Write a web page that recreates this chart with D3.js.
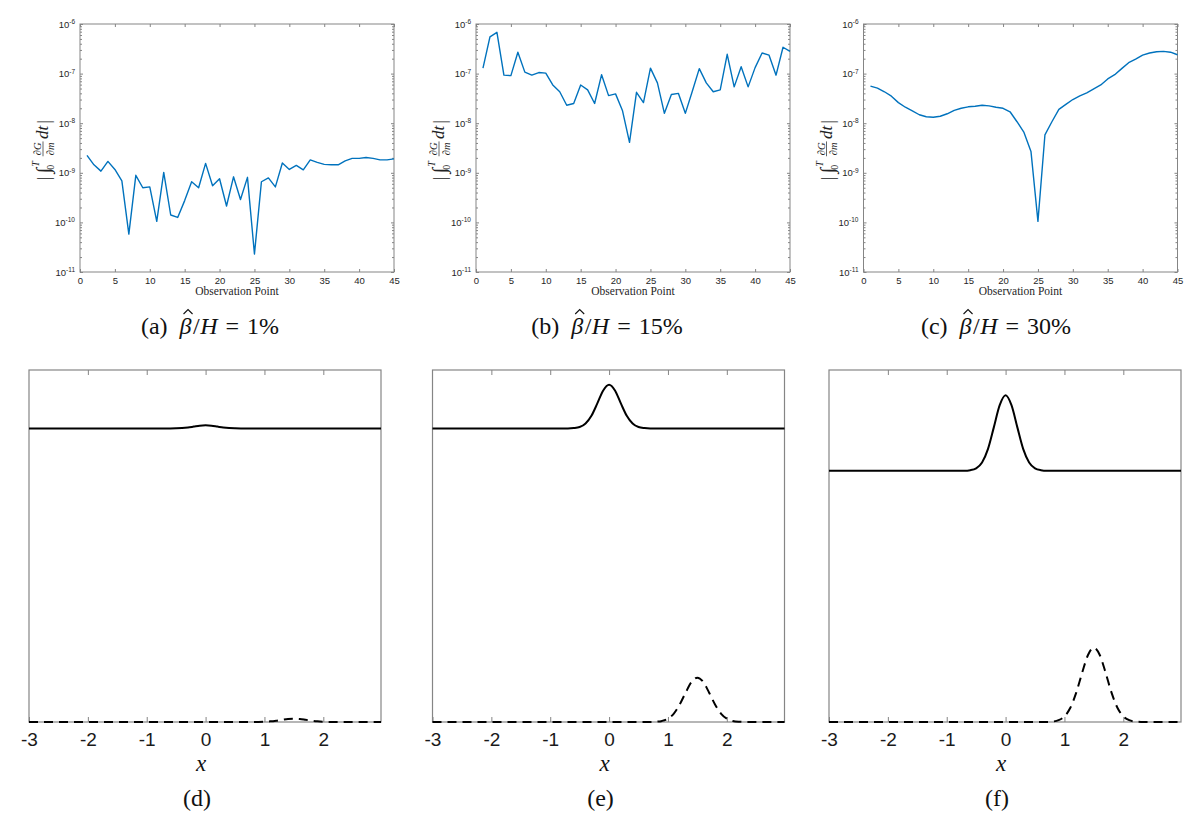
<!DOCTYPE html>
<html>
<head>
<meta charset="utf-8">
<script src="https://cdn.jsdelivr.net/npm/d3@7"></script>
<style>
  body { margin: 0; background: #fff; }
  svg { display: block; background: #fff; }
</style>
</head>
<body>
<svg id="fig" width="1200" height="830"></svg>
<script>
// ---- data ----
const obsPoints = [1, 2, 3, 4, 5, 6, 7, 8, 9, 10, 11, 12, 13, 14, 15, 16, 17, 18, 19, 20, 21, 22, 23,
  24, 25, 26, 27, 28, 29, 30, 31, 32, 33, 34, 35, 36, 37, 38, 39, 40, 41, 42, 43, 44, 45];

// (a) beta/H = 1%
const gradA = [2.25e-9, 1.45e-9, 1.08e-9, 1.7e-9, 1.17e-9, 6.9e-10, 5.8e-11, 8.9e-10, 5.0e-10, 5.2e-10,
  1.05e-10, 1.02e-9, 1.41e-10, 1.26e-10, 2.75e-10, 6.6e-10, 5.0e-10, 1.55e-9, 5.5e-10, 7.6e-10,
  2.14e-10, 8.3e-10, 2.9e-10, 8.1e-10, 2.3e-11, 6.6e-10, 7.9e-10, 5.2e-10, 1.58e-9, 1.17e-9,
  1.41e-9, 1.15e-9, 1.82e-9, 1.62e-9, 1.48e-9, 1.45e-9, 1.45e-9, 1.74e-9, 1.95e-9, 1.95e-9,
  2.04e-9, 1.95e-9, 1.82e-9, 1.82e-9, 1.91e-9];
// (b) beta/H = 15%
const gradB = [1.29e-7, 5.5e-7, 6.8e-7, 9.3e-8, 9.1e-8, 2.7e-7, 1.07e-7, 9.3e-8, 1.05e-7, 1.02e-7,
  5.9e-8, 4.3e-8, 2.3e-8, 2.5e-8, 5.9e-8, 4.7e-8, 2.5e-8, 9.5e-8, 3.6e-8, 3.9e-8,
  1.78e-8, 4.1e-9, 4.2e-8, 2.6e-8, 1.29e-7, 6.5e-8, 1.58e-8, 3.8e-8, 4.0e-8, 1.58e-8,
  4.4e-8, 1.26e-7, 6.5e-8, 4.3e-8, 4.7e-8, 2.45e-7, 5.4e-8, 1.38e-7, 5.4e-8, 1.32e-7,
  2.6e-7, 2.35e-7, 9.3e-8, 3.4e-7, 2.8e-7];
// (c) beta/H = 30%
const gradC = [5.6e-8, 5.1e-8, 4.3e-8, 3.5e-8, 2.6e-8, 2.1e-8, 1.78e-8, 1.48e-8, 1.35e-8, 1.32e-8,
  1.38e-8, 1.55e-8, 1.82e-8, 2.0e-8, 2.14e-8, 2.2e-8, 2.3e-8, 2.24e-8, 2.1e-8, 2.0e-8,
  1.7e-8, 1.07e-8, 6.5e-9, 2.7e-9, 1.05e-10, 5.8e-9, 1.07e-8, 1.9e-8, 2.4e-8, 3.0e-8,
  3.55e-8, 4.1e-8, 4.9e-8, 5.9e-8, 7.8e-8, 9.5e-8, 1.26e-7, 1.66e-7, 1.95e-7, 2.35e-7,
  2.6e-7, 2.75e-7, 2.8e-7, 2.7e-7, 2.4e-7];

const obsTicks = [0, 5, 10, 15, 20, 25, 30, 35, 40, 45];
const decadeTicks = [1e-11, 1e-10, 1e-9, 1e-8, 1e-7, 1e-6];

// lower row: profiles (relative height, 0 = bottom of box, 1 = top)
const solidX = [-3, -0.8, -0.7, -0.6, -0.5, -0.4, -0.3, -0.2, -0.1, 0, 0.1, 0.2, 0.3, 0.4, 0.5, 0.6, 0.7, 0.8, 2.98];
const solidD = [0.834, 0.834, 0.834, 0.834, 0.8343, 0.835, 0.8366, 0.8392, 0.8418, 0.843, 0.8418, 0.8392, 0.8366, 0.835, 0.8343, 0.834, 0.834, 0.834, 0.834];
const solidE = [0.834, 0.834, 0.834, 0.835, 0.838, 0.848, 0.870, 0.905, 0.942, 0.958, 0.942, 0.905, 0.870, 0.848, 0.838, 0.835, 0.834, 0.834, 0.834];
const solidF = [0.714, 0.714, 0.714, 0.7155, 0.7206, 0.7373, 0.7754, 0.837, 0.900, 0.928, 0.900, 0.837, 0.7754, 0.7373, 0.7206, 0.7155, 0.714, 0.714, 0.714];

const dashX = [-3, 0.7, 0.8, 0.9, 1.0, 1.1, 1.2, 1.3, 1.4, 1.5, 1.6, 1.7, 1.8, 1.9, 2.0, 2.1, 2.2, 2.3, 2.98];
const dashD = [0, 0, 0.0001, 0.0002, 0.0007, 0.0018, 0.0037, 0.0062, 0.0085, 0.0094, 0.0085, 0.0062, 0.0037, 0.0018, 0.0007, 0.0002, 0.0001, 0, 0];
const dashE = [0, 0.0002, 0.0008, 0.0031, 0.0095, 0.0241, 0.0498, 0.0833, 0.1137, 0.126, 0.1137, 0.0833, 0.0498, 0.0241, 0.0095, 0.0031, 0.0008, 0.0002, 0];
const dashF = [0, 0.0003, 0.0013, 0.0051, 0.016, 0.0403, 0.0833, 0.1395, 0.1903, 0.211, 0.1903, 0.1395, 0.0833, 0.0403, 0.016, 0.0051, 0.0013, 0.0003, 0];

const xTicks = [-3, -2, -1, 0, 1, 2];
const topTags = ["(a)", "(b)", "(c)"];
const topPercents = ["1%", "15%", "30%"];
const bottomTags = ["(d)", "(e)", "(f)"];

// ---- drawing ----
const svg = d3.select("#fig");
const SERIF = "'Liberation Serif', 'Times New Roman', serif";
const SANS = "'Liberation Sans', Arial, Helvetica, sans-serif";
const frameColor = "#858585";

// lays out text pieces left to right, returns the group and total width
function mathRow(parent, pieces) {
  const g = parent.append("g");
  let cursor = 0;
  pieces.forEach(p => {
    const t = g.append("text")
      .attr("x", cursor)
      .attr("y", 0)
      .attr("font-family", SERIF)
      .attr("font-size", p.size)
      .attr("font-style", p.italic ? "italic" : "normal")
      .attr("fill", "#111")
      .text(p.t);
    const w = t.node().getComputedTextLength();
    p.x0 = cursor;
    p.w = w;
    cursor += w + (p.after || 0);
  });
  return { g, width: cursor };
}

function drawCaption(cx, baseline, tag, pct) {
  const fs = 24;
  const pieces = [
    { t: tag, size: fs, after: 12 },
    { t: "\u03B2", size: fs, italic: true, after: 1.5 },
    { t: "/", size: fs, after: 0.5 },
    { t: "H", size: fs, italic: true, after: 8 },
    { t: "=", size: fs, after: 8 },
    { t: pct, size: fs }
  ];
  const row = mathRow(svg, pieces);
  const beta = pieces[1];
  // hat accent over beta
  const hx = beta.x0 + beta.w / 2 + 2.5;
  row.g.append("path")
    .attr("d", d3.line()([[hx - 4.5, -20], [hx, -24.5], [hx + 4.5, -20]]))
    .attr("fill", "none").attr("stroke", "#111").attr("stroke-width", 1.1);
  row.g.attr("transform", `translate(${cx - row.width / 2},${baseline})`);
}

function drawGradLabel(cx, cy) {
  const outer = svg.append("g").attr("transform", `translate(${cx},${cy}) rotate(-90)`);
  const inner = outer.append("g");
  let cursor = 0;
  const put = (txt, size, x, y, italic) => {
    const t = inner.append("text")
      .attr("x", x).attr("y", y)
      .attr("font-family", SERIF)
      .attr("font-size", size)
      .attr("font-style", italic ? "italic" : "normal")
      .attr("fill", "#222")
      .text(txt);
    return t.node().getComputedTextLength();
  };
  cursor += put("|", 19, cursor, 2) + 3;
  cursor += put("\u222B", 20, cursor, 2) - 1;
  const wT = put("T", 10, cursor + 2, -9, true);
  const w0 = put("0", 10, cursor - 1, 6);
  cursor += Math.max(wT + 2, w0) + 5;
  // fraction dG/dm
  const fsz = 10.5;
  const tmpN = inner.append("text").attr("font-family", SERIF).attr("font-size", fsz).text("\u2202G");
  const tmpD = inner.append("text").attr("font-family", SERIF).attr("font-size", fsz).text("\u2202m");
  const fw = Math.max(tmpN.node().getComputedTextLength(), tmpD.node().getComputedTextLength()) + 1.5;
  tmpN.remove(); tmpD.remove();
  const fc = cursor + fw / 2;
  inner.append("text").attr("x", fc).attr("y", -7).attr("text-anchor", "middle")
    .attr("font-family", SERIF).attr("font-size", fsz).attr("fill", "#222")
    .html("\u2202<tspan font-style='italic'>G</tspan>");
  inner.append("text").attr("x", fc).attr("y", 5.5).attr("text-anchor", "middle")
    .attr("font-family", SERIF).attr("font-size", fsz).attr("fill", "#222")
    .html("\u2202<tspan font-style='italic'>m</tspan>");
  inner.append("line").attr("x1", cursor).attr("x2", cursor + fw)
    .attr("y1", -5).attr("y2", -5).attr("stroke", "#222").attr("stroke-width", 0.7);
  cursor += fw + 2.5;
  cursor += put("dt", 17, cursor, 0, true) + 2;
  cursor += put("|", 19, cursor, 2);
  const bb = inner.node().getBBox();
  inner.attr("transform", `translate(${-bb.x - bb.width / 2},${-bb.y - bb.height / 2})`);
}

function styleTicks(sel) {
  sel.select(".domain").remove();
  sel.selectAll(".tick line").attr("stroke", frameColor);
}

// upper row
const topBox = { top: 24, bottom: 272, width: 314 };
const topLefts = [80, 476, 863.5];
const topSeries = [gradA, gradB, gradC];
const topCaptionX = [210, 607, 996];

topSeries.forEach((values, k) => {
  const left = topLefts[k];
  const x = d3.scaleLinear().domain([0, 45]).range([left, left + topBox.width]);
  const y = d3.scaleLog().domain([1e-11, 1e-6]).range([topBox.bottom, topBox.top]);
  const minor = y.ticks().filter(v => !decadeTicks.some(d => Math.abs(v / d - 1) < 1e-6));
  const g = svg.append("g");

  g.append("g").attr("transform", `translate(0,${topBox.bottom})`)
    .call(d3.axisBottom(x).tickValues(obsTicks).tickSizeInner(-3).tickSizeOuter(0).tickPadding(5))
    .call(styleTicks)
    .call(s => s.selectAll("text").attr("font-family", SANS).attr("font-size", 9.5).attr("fill", "#262626"));
  g.append("g").attr("transform", `translate(0,${topBox.top})`)
    .call(d3.axisTop(x).tickValues(obsTicks).tickSizeInner(-3).tickSizeOuter(0).tickFormat(""))
    .call(styleTicks);

  g.append("g").attr("transform", `translate(${left},0)`)
    .call(d3.axisLeft(y).tickValues(decadeTicks).tickSizeInner(-3).tickSizeOuter(0).tickPadding(5).tickFormat(""))
    .call(styleTicks)
    .call(s => s.selectAll(".tick text").each(function (d) {
      const t = d3.select(this).attr("font-family", SANS).attr("font-size", 9.5).attr("fill", "#262626");
      t.append("tspan").text("10");
      t.append("tspan").attr("dy", "-0.55em").attr("font-size", 6.5).text(String(Math.round(Math.log10(d))));
    }));
  g.append("g").attr("transform", `translate(${left},0)`)
    .call(d3.axisLeft(y).tickValues(minor).tickSizeInner(-2).tickSizeOuter(0).tickFormat(""))
    .call(styleTicks);
  g.append("g").attr("transform", `translate(${left + topBox.width},0)`)
    .call(d3.axisRight(y).tickValues(decadeTicks).tickSizeInner(-3).tickSizeOuter(0).tickFormat(""))
    .call(styleTicks);
  g.append("g").attr("transform", `translate(${left + topBox.width},0)`)
    .call(d3.axisRight(y).tickValues(minor).tickSizeInner(-2).tickSizeOuter(0).tickFormat(""))
    .call(styleTicks);

  g.append("rect")
    .attr("x", left).attr("y", topBox.top)
    .attr("width", topBox.width).attr("height", topBox.bottom - topBox.top)
    .attr("fill", "none").attr("stroke", frameColor).attr("stroke-width", 1);

  g.append("path")
    .datum(obsPoints.map((p, i) => [p, values[i]]))
    .attr("fill", "none")
    .attr("stroke", "#0072BD")
    .attr("stroke-width", 1.4)
    .attr("stroke-linejoin", "round")
    .attr("d", d3.line().x(d => x(d[0])).y(d => y(d[1])));

  g.append("text")
    .attr("x", left + topBox.width / 2).attr("y", 295)
    .attr("text-anchor", "middle")
    .attr("font-family", SERIF).attr("font-size", 11.5).attr("fill", "#262626")
    .text("Observation Point");

  drawGradLabel(left - 37, 150);
  drawCaption(topCaptionX[k], 334, topTags[k], topPercents[k]);
});

// lower row
const botBox = { top: 370, bottom: 722, width: 352 };
const botLefts = [29, 432.5, 829];
const solidSeries = [solidD, solidE, solidF];
const dashSeries = [dashD, dashE, dashF];

solidSeries.forEach((solid, k) => {
  const left = botLefts[k];
  const x = d3.scaleLinear().domain([-3, 2.98]).range([left, left + botBox.width]);
  const y = d3.scaleLinear().domain([0, 1]).range([botBox.bottom, botBox.top]);
  const g = svg.append("g");

  g.append("g").attr("transform", `translate(0,${botBox.bottom})`)
    .call(d3.axisBottom(x).tickValues(xTicks).tickSizeInner(-5).tickSizeOuter(0).tickPadding(11).tickFormat(d3.format("d")))
    .call(styleTicks)
    .call(s => s.selectAll("text").attr("font-family", SANS).attr("font-size", 19).attr("fill", "#1a1a1a")
      .text(d => String(d)));
  g.append("g").attr("transform", `translate(0,${botBox.top})`)
    .call(d3.axisTop(x).tickValues(xTicks.slice(1)).tickSizeInner(-5).tickSizeOuter(0).tickFormat(""))
    .call(styleTicks);

  g.append("rect")
    .attr("x", left).attr("y", botBox.top)
    .attr("width", botBox.width).attr("height", botBox.bottom - botBox.top)
    .attr("fill", "none").attr("stroke", frameColor).attr("stroke-width", 1.2);

  const line = d3.line().curve(d3.curveMonotoneX).x(d => x(d[0])).y(d => y(d[1]));
  g.append("path")
    .datum(solidX.map((v, i) => [v, solid[i]]))
    .attr("fill", "none").attr("stroke", "#000").attr("stroke-width", 2)
    .attr("d", line);
  g.append("path")
    .datum(dashX.map((v, i) => [v, dashSeries[k][i]]))
    .attr("fill", "none").attr("stroke", "#000").attr("stroke-width", 2)
    .attr("stroke-dasharray", "9,6")
    .attr("d", line);

  g.append("text")
    .attr("x", left + botBox.width / 2 - 4).attr("y", 771)
    .attr("text-anchor", "middle")
    .attr("font-family", SERIF).attr("font-style", "italic").attr("font-size", 23).attr("fill", "#111")
    .text("x");
  g.append("text")
    .attr("x", left + botBox.width / 2 - 8).attr("y", 806)
    .attr("text-anchor", "middle")
    .attr("font-family", SERIF).attr("font-size", 24).attr("fill", "#111")
    .text(bottomTags[k]);
});
</script>
</body>
</html>
